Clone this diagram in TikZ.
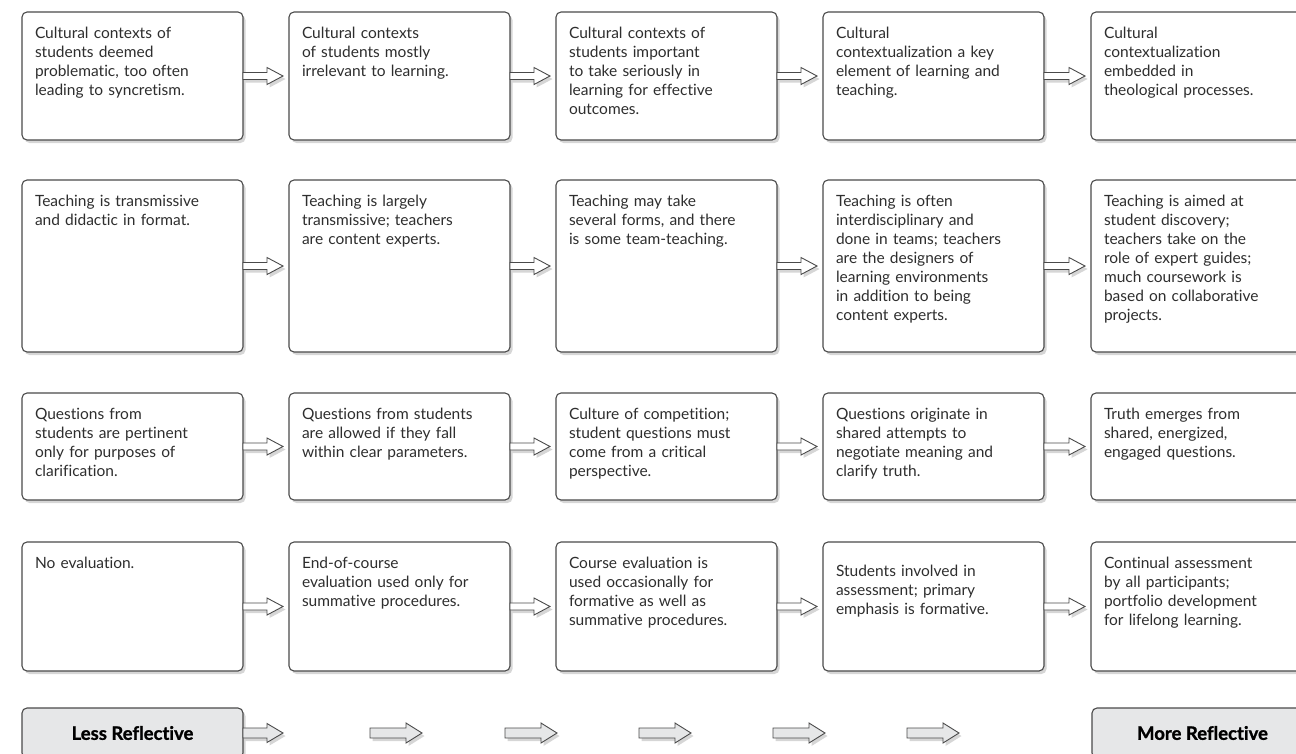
\documentclass[tikz,border=0pt]{standalone}
\usepackage{fontspec}
\setmainfont{Lato}[Ligatures={NoCommon}]
\newfontfamily\heavyfont{Lato}[Ligatures={NoCommon}, FakeBold=1.2]
\usetikzlibrary{calc,shadows}
\definecolor{ink}{HTML}{2E2E2E}
\definecolor{edge}{HTML}{4A4A4A}
\definecolor{lgray}{HTML}{E6E7E8}
\tikzset{
  x=1pt, y=-1pt,
  shad/.style={drop shadow={shadow xshift=2.5pt, shadow yshift=-3pt, opacity=0.16, fill=black}},
  box/.style={draw=edge, line width=1.1pt, rounded corners=5pt, fill=white,
    minimum width=221pt, inner sep=0pt, outer sep=0pt, shad},
  txt/.style={text width=215pt, align=left, inner sep=0pt, outer sep=0pt,
    font=\fontsize{15.5}{19}\selectfont, text=ink},
  lbl/.style={draw=edge, line width=1.1pt, rounded corners=5pt, fill=lgray,
    minimum width=221pt, minimum height=50pt, inner sep=0pt, outer sep=0pt,
    font=\heavyfont\bfseries\fontsize{18.5}{20}\selectfont, text=black, shad},
  arr/.style={draw=edge, line width=0.9pt, fill=white, line join=miter, shad},
  barr/.style={draw=edge, line width=0.9pt, fill=lgray, line join=miter, shad},
}
% #1 extra offset, #2 name, #3 x, #4 y, #5 height, #6 text
\newcommand\cell[6][0]{%
  \node[box, minimum height=#5pt, anchor=north west] (#2) at (#3,#4) {};
  \node[txt, anchor=north west] (#2t) at ($(#2.north west)+(13,12.7+#1)$) {\strut#6};
}
% #1 style, #2 start, #3 tip, #4 shaft half, #5 head half, #6 head length
\newcommand\blockarrow[6]{%
  \path let \p1=(#2), \p2=(#3) in [#1]
    (\x1,\y1+#4) -- (\x2-#6,\y1+#4) -- (\x2-#6,\y1+#5) -- (\x2,\y1)
    -- (\x2-#6,\y1-#5) -- (\x2-#6,\y1-#4) -- (\x1,\y1-#4) -- cycle;
}
\newcommand\conn[2]{\blockarrow{arr}{#1.east}{$(#2.west)+(-6pt,0pt)$}{3.5pt}{8.5pt}{16pt}}
\begin{document}
\begin{tikzpicture}
\useasboundingbox (0,0) rectangle (1296,753);
\clip (0,0) rectangle (1296,753);
% Row 1
\cell{r1c1}{22}{12}{128}{Cultural contexts of\\students deemed\\problematic, too often\\leading to syncretism.}
\cell{r1c2}{289}{12}{128}{Cultural contexts\\of students mostly\\irrelevant to learning.}
\cell{r1c3}{556}{12}{128}{Cultural contexts of\\students important\\to take seriously in\\learning for effective\\outcomes.}
\cell{r1c4}{823}{12}{128}{Cultural\\contextualization a key\\element of learning and\\teaching.}
\cell{r1c5}{1091}{12}{128}{Cultural\\contextualization\\embedded in\\theological processes.}
% Row 2
\cell{r2c1}{22}{180}{172}{Teaching is transmissive\\and didactic in format.}
\cell{r2c2}{289}{180}{172}{Teaching is largely\\transmissive; teachers\\are content experts.}
\cell{r2c3}{556}{180}{172}{Teaching may take\\several forms, and there\\is some team-teaching.}
\cell{r2c4}{823}{180}{172}{Teaching is often\\interdisciplinary and\\done in teams; teachers\\are the designers of\\learning environments\\in addition to being\\content experts.}
\cell{r2c5}{1091}{180}{172}{Teaching is aimed at\\student discovery;\\teachers take on the\\role of expert guides;\\much coursework is\\based on collaborative\\projects.}
% Row 3
\cell{r3c1}{22}{393}{107}{Questions from\\students are pertinent\\only for purposes of\\clarification.}
\cell{r3c2}{289}{393}{107}{Questions from students\\are allowed if they fall\\within clear parameters.}
\cell{r3c3}{556}{393}{107}{Culture of competition;\\student questions must\\come from a critical\\perspective.}
\cell{r3c4}{823}{393}{107}{Questions originate in\\shared attempts to\\negotiate meaning and\\clarify truth.}
\cell{r3c5}{1091}{393}{107}{Truth emerges from\\shared, energized,\\engaged questions.}
% Row 4
\cell{r4c1}{22}{542}{129}{No evaluation.}
\cell{r4c2}{289}{542}{129}{End-of-course\\evaluation used only for\\summative procedures.}
\cell{r4c3}{556}{542}{129}{Course evaluation is\\used occasionally for\\formative as well as\\summative procedures.}
\cell[8]{r4c4}{823}{542}{129}{Students involved in\\assessment; primary\\emphasis is formative.}
\cell{r4c5}{1091}{542}{129}{Continual assessment\\by all participants;\\portfolio development\\for lifelong learning.}
% Connectors
\foreach \r in {1,2,3,4}{
  \conn{r\r c1}{r\r c2}
  \conn{r\r c2}{r\r c3}
  \conn{r\r c3}{r\r c4}
  \conn{r\r c4}{r\r c5}
}
% Bottom scale
\node[lbl, anchor=north west] (less) at (22,708) {Less Reflective};
\node[lbl, anchor=north west] (more) at (1092,708) {More Reflective};
\coordinate (lessTip) at ($(less.east)+(40pt,0pt)$);
\blockarrow{barr}{less.east}{lessTip}{5pt}{9.5pt}{16pt}
\foreach \s [count=\i] in {370,505,639,773,907}{
  \coordinate (bs\i) at (\s,733);
  \coordinate (be\i) at ($(bs\i)+(52pt,0pt)$);
  \blockarrow{barr}{bs\i}{be\i}{5pt}{10pt}{16pt}
}
\end{tikzpicture}
\end{document}
